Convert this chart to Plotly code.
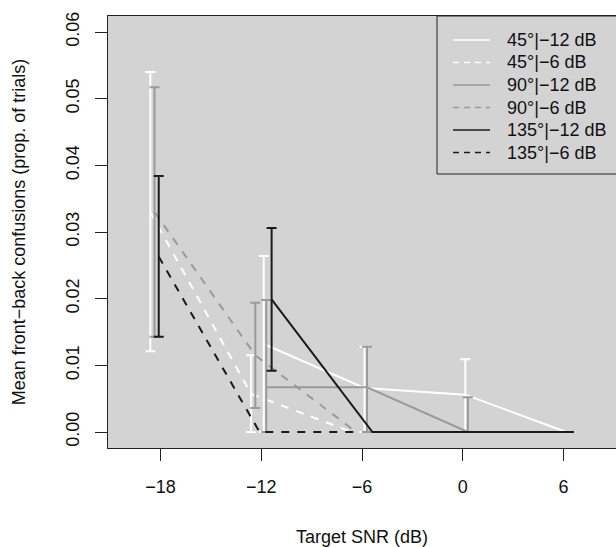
import plotly.graph_objects as go

# ---- data ----
snr_12 = [-12, -6, 0, 6]        # SNR levels for the -12 dB conditions
snr_6 = [-18, -12, -6]          # SNR levels for the -6 dB conditions

series_names = ["45°|−12 dB", "45°|−6 dB", "90°|−12 dB",
                "90°|−6 dB", "135°|−12 dB", "135°|−6 dB"]

y_45_12 = [0.0132, 0.0066, 0.0056, 0.0]
lo_45_12 = [0.0, 0.0, 0.0, None]
hi_45_12 = [0.0264, 0.0128, 0.0109, None]

y_45_6 = [0.0330, 0.0057, 0.0]
lo_45_6 = [0.0121, 0.0, None]
hi_45_6 = [0.0540, 0.0115, None]

y_90_12 = [0.0067, 0.0067, 0.0, 0.0]
lo_90_12 = [0.0, 0.0, 0.0, None]
hi_90_12 = [0.0198, 0.0128, 0.0052, None]

y_90_6 = [0.0330, 0.0115, 0.0]
lo_90_6 = [0.0143, 0.0036, None]
hi_90_6 = [0.0517, 0.0194, None]

y_135_12 = [0.0199, 0.0, 0.0, 0.0]
lo_135_12 = [0.0092, None, None, None]
hi_135_12 = [0.0306, None, None, None]

y_135_6 = [0.0263, 0.0, 0.0]
lo_135_6 = [0.0143, None, None]
hi_135_6 = [0.0384, None, None]

# horizontal dodge of each series (dB)
dodge = [0.15, -0.6, 0.3, -0.35, 0.62, -0.1]

x_ticks = [-18, -12, -6, 0, 6]
y_ticks = [0.0, 0.01, 0.02, 0.03, 0.04, 0.05, 0.06]

# ---- styles ----
WHITE, GRAY, BLACK = "#ffffff", "#9a9a9a", "#1a1a1a"
BG = "#d3d3d4"
FONT = "Liberation Sans, Arial, Helvetica, sans-serif"
colors = [WHITE, WHITE, GRAY, GRAY, BLACK, BLACK]
dashes = ["solid", "8px,8px", "solid", "8px,8px", "solid", "8px,8px"]
legend_dashes = ["solid", "6px,5px", "solid", "6px,5px", "solid", "6px,5px"]

data = [
    (snr_12, y_45_12, lo_45_12, hi_45_12),
    (snr_6, y_45_6, lo_45_6, hi_45_6),
    (snr_12, y_90_12, lo_90_12, hi_90_12),
    (snr_6, y_90_6, lo_90_6, hi_90_6),
    (snr_12, y_135_12, lo_135_12, hi_135_12),
    (snr_6, y_135_6, lo_135_6, hi_135_6),
]

fig = go.Figure()

for i, (snr, y, lo, hi) in enumerate(data):
    x = [s + dodge[i] for s in snr]
    fig.add_trace(go.Scatter(
        x=x, y=y, mode="lines", name=series_names[i],
        line=dict(color=colors[i], width=2, dash=dashes[i]),
        showlegend=False,
    ))
    # error bars only where the reference has them
    ex, ey, ep, em = [], [], [], []
    for xv, yv, l, h in zip(x, y, lo, hi):
        if l is None or h is None:
            continue
        ex.append(xv)
        ey.append(yv)
        ep.append(h - yv)
        em.append(yv - l)
    fig.add_trace(go.Scatter(
        x=ex, y=ey, mode="markers",
        marker=dict(size=1, color="rgba(0,0,0,0)"),
        error_y=dict(type="data", symmetric=False, array=ep, arrayminus=em,
                     color=colors[i], thickness=2, width=5),
        showlegend=False, hoverinfo="skip",
    ))

# ---- layout geometry (px) ----
W, H = 616, 547
ML, MR, MT, MB = 108, 0, 16, 99
PW, PH = W - ML - MR, H - MT - MB


def px2x(px):
    return (px - ML) / PW


def px2y(py):
    return (H - MB - py) / PH


shapes = []
annotations = []

# legend box (top-right, like R's legend("topright"))
shapes.append(dict(type="rect", xref="paper", yref="paper",
                   x0=px2x(437), x1=px2x(640), y0=px2y(174), y1=px2y(16),
                   line=dict(color="#222222", width=1), fillcolor=BG, layer="above"))
for i, name in enumerate(series_names):
    row_y = px2y(40 + 22.5 * i)
    shapes.append(dict(type="line", xref="paper", yref="paper",
                       x0=px2x(453), x1=px2x(490), y0=row_y, y1=row_y,
                       line=dict(color=colors[i], width=1.3, dash=legend_dashes[i]),
                       layer="above"))
    annotations.append(dict(xref="paper", yref="paper", x=px2x(505), y=row_y,
                            text=name, showarrow=False, xanchor="left", yanchor="middle",
                            font=dict(family=FONT, size=18, color="#111111")))

fig.update_layout(
    width=W, height=H,
    margin=dict(l=ML, r=MR, t=MT, b=MB),
    paper_bgcolor="white", plot_bgcolor=BG,
    font=dict(family=FONT, size=18, color="#111111"),
    shapes=shapes, annotations=annotations,
    showlegend=False,
)
fig.update_xaxes(
    range=[-21.12, 9.12], tickvals=x_ticks, ticks="outside", ticklen=12,
    tickwidth=1, tickcolor="#222222", showgrid=False, zeroline=False,
    showline=True, mirror=True, linecolor="#222222", linewidth=1,
    tickfont=dict(size=18), ticklabelstandoff=10,
    title=dict(text="Target SNR (dB)", font=dict(size=18), standoff=37),
    automargin=False,
)
fig.update_yaxes(
    range=[-0.0024, 0.0624], tickvals=y_ticks, tickformat=".2f", ticks="outside",
    ticklen=12, tickwidth=1, tickcolor="#222222", showgrid=False, zeroline=False,
    showline=True, mirror=True, linecolor="#222222", linewidth=1,
    tickangle=-90, tickfont=dict(size=18), ticklabelstandoff=9,
    title=dict(text="Mean front−back confusions (prop. of trials)",
               font=dict(size=18), standoff=32),
    automargin=False,
)

fig.write_html("out.html", config={"displayModeBar": False},
               post_script="document.body.style.margin='0px';")
